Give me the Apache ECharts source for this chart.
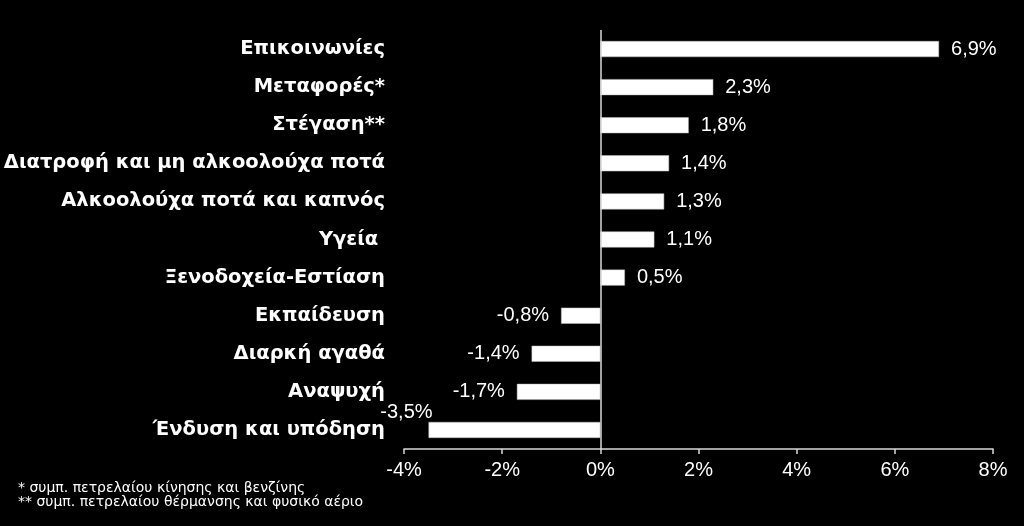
<!DOCTYPE html>
<html>
<head>
<meta charset="utf-8">
<script src="https://cdn.jsdelivr.net/npm/echarts@6/dist/echarts.min.js"></script>
<style>
  html, body { margin: 0; padding: 0; background: #000; }
  #chart { width: 1024px; height: 526px; }
</style>
</head>
<body>
<div id="chart"></div>
<script>
var categories = ['Επικοινωνίες', 'Μεταφορές*', 'Στέγαση**', 'Διατροφή και μη αλκοολούχα ποτά',
  'Αλκοολούχα ποτά και καπνός', 'Υγεία ', 'Ξενοδοχεία-Εστίαση', 'Εκπαίδευση',
  'Διαρκή αγαθά', 'Αναψυχή', 'Ένδυση και υπόδηση'];
var values = [6.9, 2.3, 1.8, 1.4, 1.3, 1.1, 0.5, -0.8, -1.4, -1.7, -3.5];
var notes = ['* συμπ. πετρελαίου κίνησης και βενζίνης',
  '** συμπ. πετρελαίου θέρμανσης και φυσικό αέριο'];

var chart = echarts.init(document.getElementById('chart'));

// ετικέτες: δεξιά για θετικά, αριστερά για αρνητικά
var barData = values.map(function (v, i) {
  var item = { value: v, label: { position: v >= 0 ? 'right' : 'left' } };
  if (i === values.length - 1) {
    item.label = { position: 'left', distance: 0, offset: [4, -17] };
  }
  return item;
});

var option = {
  backgroundColor: '#000',
  textStyle: { fontFamily: 'Liberation Sans, Arial, sans-serif' },
  grid: { left: 404, right: 31, top: 30, bottom: 77 },
  xAxis: {
    type: 'value',
    min: -4, max: 8, interval: 2,
    splitLine: { show: false },
    axisLine: { show: true, lineStyle: { color: '#d9d9d9', width: 1.5 } },
    axisTick: { show: true, length: 5, lineStyle: { color: '#d9d9d9', width: 1.5 } },
    axisLabel: {
      color: '#fff', fontSize: 20, margin: 11,
      formatter: function (v) { return v + '%'; }
    }
  },
  yAxis: {
    type: 'category',
    data: categories,
    inverse: true,
    axisLine: { show: false, onZero: false },
    axisTick: { show: false },
    axisLabel: {
      color: '#fff', fontSize: 19.5, fontWeight: 'bold', margin: 19,
      padding: [6, 0, 0, 0],
      fontFamily: 'DejaVu Sans, sans-serif'
    }
  },
  series: [{
    type: 'bar',
    data: barData,
    barWidth: 16,
    itemStyle: { color: '#fff', borderColor: '#bfbfbf', borderWidth: 0.5 },
    label: {
      show: true, color: '#fff', fontSize: 20, distance: 12,
      formatter: function (p) { return String(p.value).replace('.', ',') + '%'; }
    },
    markLine: {
      silent: true, symbol: 'none', animation: false,
      label: { show: false },
      lineStyle: { color: '#d9d9d9', width: 1.5, type: 'solid' },
      data: [{ xAxis: 0 }]
    }
  }],
  graphic: [
    { type: 'text', left: 18, top: 481, style: { text: notes[0], fill: '#fff', fontSize: 14, fontFamily: 'DejaVu Sans, sans-serif' } },
    { type: 'text', left: 18, top: 495, style: { text: notes[1], fill: '#fff', fontSize: 14, fontFamily: 'DejaVu Sans, sans-serif' } }
  ],
  animation: false
};
chart.setOption(option);
</script>
</body>
</html>
